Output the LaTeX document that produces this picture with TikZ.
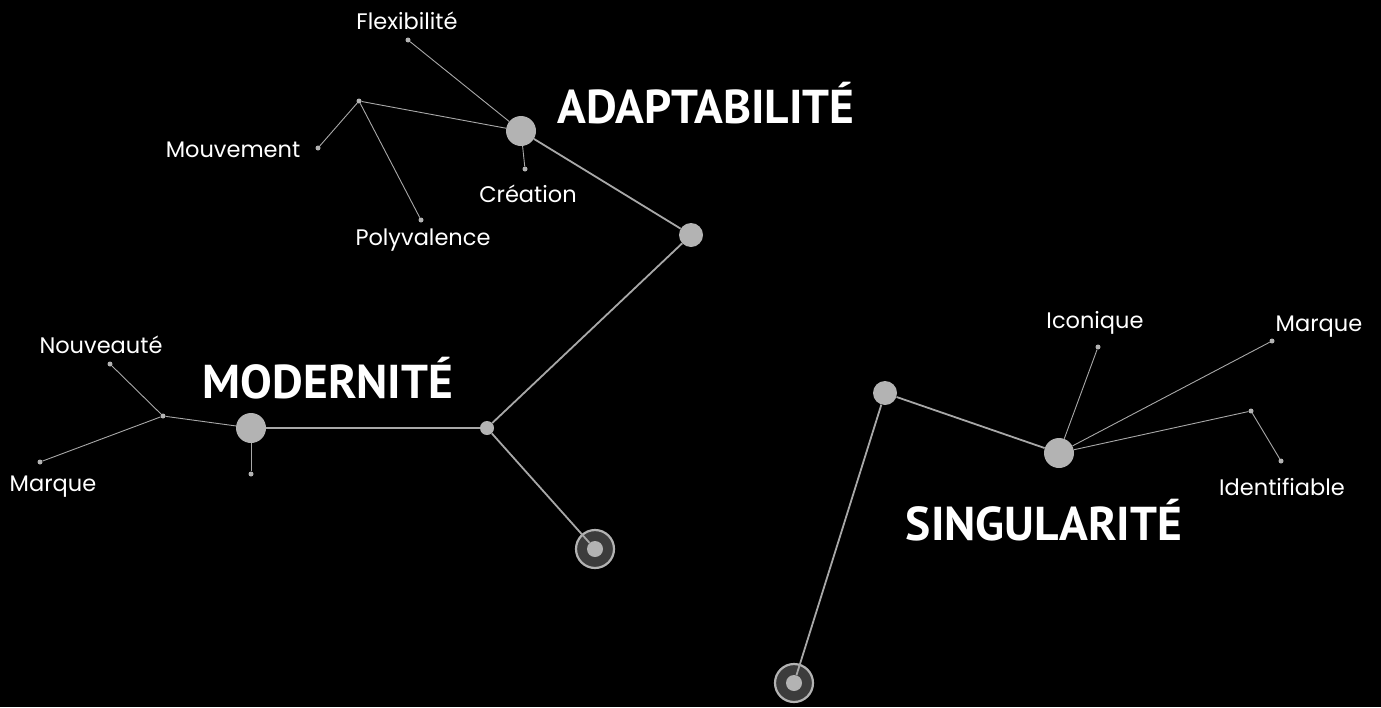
\documentclass[tikz,border=0pt]{standalone}
\usepackage{fontspec}
\setmainfont{Poppins}
\newfontfamily\titlefont{PT Sans}
\begin{document}
\begin{tikzpicture}[x=1pt,y=-1pt,
  thick line/.style={draw=linegray,line width=1.8pt},
  thin line/.style={draw=linegray,line width=0.9pt},
  bignode/.style={circle,fill=nodegray,minimum size=30pt,inner sep=0pt},
  midnode/.style={circle,fill=nodegray,minimum size=24pt,inner sep=0pt},
  junction/.style={circle,fill=nodegray,minimum size=14pt,inner sep=0pt},
  dot/.style={circle,fill=nodegray,minimum size=5pt,inner sep=0pt},
  endring/.style={circle,fill=ringdark,draw=nodegray,line width=2.2pt,minimum size=38pt,inner sep=0pt},
  enddot/.style={circle,fill=nodegray,minimum size=16pt,inner sep=0pt},
  label/.style={text=white,font=\fontsize{22.5}{26}\selectfont,inner sep=0pt},
  title/.style={text=white,font=\titlefont\bfseries\fontsize{47.5}{52}\selectfont,inner sep=0pt}
]
\definecolor{linegray}{HTML}{A8A8A8}
\definecolor{nodegray}{HTML}{B3B3B3}
\definecolor{ringdark}{HTML}{3C3C3C}
\useasboundingbox[fill=black] (0,0) rectangle (1381,707);

% main nodes
\node[bignode] (ad) at (521,131) {};
\node[midnode] (m1) at (691,235) {};
\node[junction] (jn) at (487,428) {};
\node[bignode] (mo) at (251,428) {};
\node[endring] (e1) at (595,549) {};
\node[enddot] (e1d) at (595,549) {};
\node[midnode] (si1) at (885,393) {};
\node[bignode] (si) at (1059,453) {};
\node[endring] (e2) at (794,683) {};
\node[enddot] (e2d) at (794,683) {};

% small dots
\node[dot] (flex) at (408,40) {};
\node[dot] (ahub) at (359,101) {};
\node[dot] (mouv) at (318,148) {};
\node[dot] (poly) at (421,220) {};
\node[dot] (crea) at (525,169) {};
\node[dot] (mhub) at (163,416) {};
\node[dot] (nouv) at (110,364) {};
\node[dot] (marq1) at (40,462) {};
\node[dot] (mdown) at (251,474) {};
\node[dot] (icon) at (1098,347) {};
\node[dot] (marq2) at (1272,341) {};
\node[dot] (shub) at (1251,411) {};
\node[dot] (iden) at (1281,461) {};

% connectors
\draw[thick line] (ad) -- (m1);
\draw[thick line] (m1) -- (jn);
\draw[thick line] (jn) -- (mo);
\draw[thick line] (jn) -- (e1d);
\draw[thick line] (si1) -- (si);
\draw[thick line] (si1) -- (e2d);
\draw[thin line] (ad) -- (flex);
\draw[thin line] (ad) -- (ahub);
\draw[thin line] (ahub) -- (mouv);
\draw[thin line] (ahub) -- (poly);
\draw[thin line] (ad) -- (crea);
\draw[thin line] (mo) -- (mhub);
\draw[thin line] (mhub) -- (nouv);
\draw[thin line] (mhub) -- (marq1);
\draw[thin line] (mo) -- (mdown);
\draw[thin line] (si) -- (icon);
\draw[thin line] (si) -- (marq2);
\draw[thin line] (si) -- (shub);
\draw[thin line] (shub) -- (iden);

% labels
\node[label] (lflex) at (407,21) {Flexibilité};
\node[label] (lmouv) at (233,150) {Mouvement};
\node[label] (lcrea) at (528,194) {Création};
\node[label] (lpoly) at (423,240) {Polyvalence};
\node[label] (lnouv) at (101,345) {Nouveauté};
\node[label] (lmarq1) at (53,487) {Marque};
\node[label] (licon) at (1095,323) {Iconique};
\node[label] (lmarq2) at (1319,327) {Marque};
\node[label] (liden) at (1282,487) {Identifiable};

\node[title] (tad) at (706,103) {ADAPTABILITÉ};
\node[title] (tmo) at (328,378) {MODERNITÉ};
\node[title] (tsi) at (1044,520) {SINGULARITÉ};
\end{tikzpicture}
\end{document}
